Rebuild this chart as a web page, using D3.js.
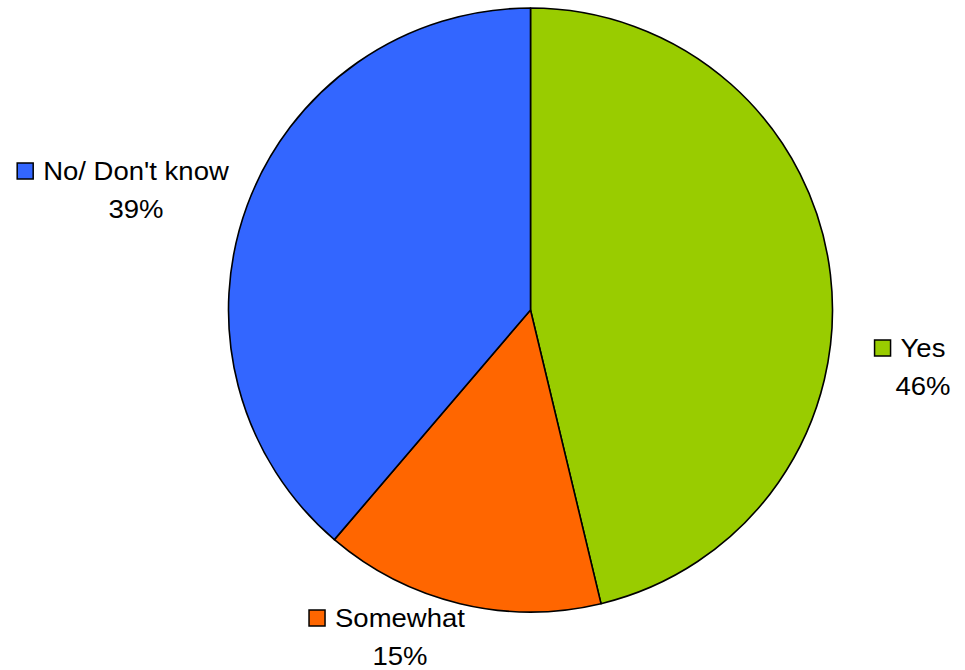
<!DOCTYPE html>
<html>
<head>
<meta charset="utf-8">
<script src="https://cdn.jsdelivr.net/npm/d3@7"></script>
<style>
  html, body { margin: 0; padding: 0; background: #fff; }
  svg { display: block; }
  text { font-family: "Liberation Sans", Arial, sans-serif; fill: #000; }
</style>
</head>
<body>
<svg id="chart" width="965" height="670"></svg>
<script>
const categories = ["Yes", "Somewhat", "No/ Don't know"];
const values = [37, 12, 31];
const percentLabels = ["46%", "15%", "39%"];
const colors = ["#99CC00", "#FF6600", "#3366FF"];

// label anchors (center x of text, baseline y) — layout only
const labelAnchors = [[923, 357], [400, 627], [136, 180]];

const W = 965, H = 670;
const cx = 530.5, cy = 310, R = 302;

const svg = d3.select("#chart");
const data = categories.map((c, i) => ({ name: c, value: values[i], pct: percentLabels[i], color: colors[i] }));

const pie = d3.pie().sort(null).value(d => d.value);
const arc = d3.arc().innerRadius(0).outerRadius(R);

const g = svg.append("g").attr("transform", `translate(${cx},${cy})`);
g.selectAll("path")
  .data(pie(data))
  .join("path")
  .attr("d", arc)
  .attr("fill", d => d.data.color)
  .attr("stroke", "#000")
  .attr("stroke-width", 1.6)
  .attr("stroke-linejoin", "round");

const fs = 25;
data.forEach((d, i) => {
  const [x, y] = labelAnchors[i];
  const t = svg.append("text")
    .attr("x", x).attr("y", y)
    .attr("text-anchor", "middle")
    .attr("font-size", fs)
    .text(d.name);
  const w = t.node().getComputedTextLength();
  const targetW = w * 1.1;
  t.attr("textLength", targetW).attr("lengthAdjust", "spacingAndGlyphs");
  svg.append("rect")
    .attr("x", x - targetW / 2 - 10 - 16)
    .attr("y", y - 17)
    .attr("width", 16).attr("height", 16)
    .attr("fill", d.color)
    .attr("stroke", "#000")
    .attr("stroke-width", 1.5);
  const p = svg.append("text")
    .attr("x", x).attr("y", y + 38)
    .attr("text-anchor", "middle")
    .attr("font-size", fs)
    .text(d.pct);
  const pw = p.node().getComputedTextLength();
  p.attr("textLength", pw * 1.1).attr("lengthAdjust", "spacingAndGlyphs");
});
</script>
</body>
</html>
